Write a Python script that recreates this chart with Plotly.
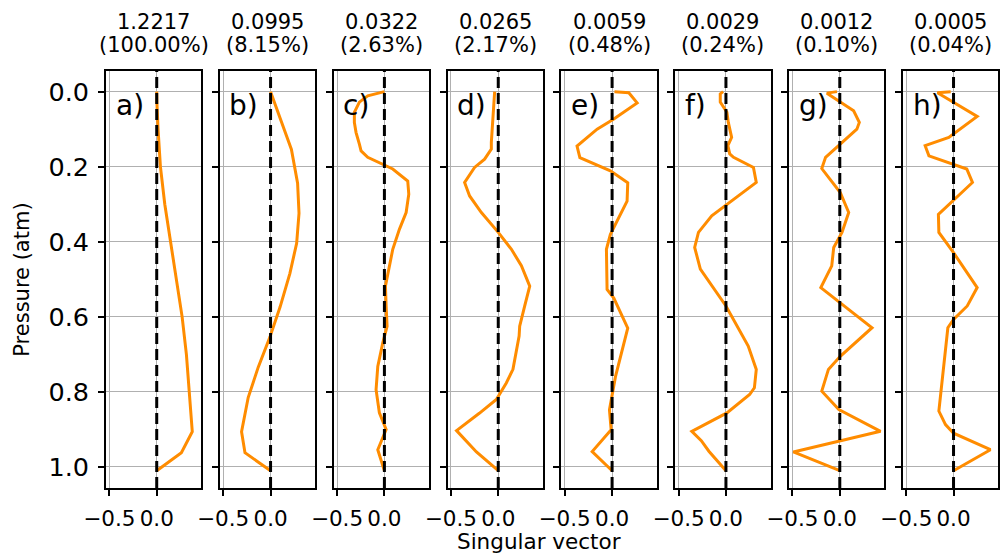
import plotly.graph_objects as go

# ---------------- data ----------------
sv_values = ["1.2217", "0.0995", "0.0322", "0.0265", "0.0059", "0.0029", "0.0012", "0.0005"]
sv_percent = ["(100.00%)", "(8.15%)", "(2.63%)", "(2.17%)", "(0.48%)", "(0.24%)", "(0.10%)", "(0.04%)"]
panel_labels = ["a)", "b)", "c)", "d)", "e)", "f)", "g)", "h)"]

p_a = [0.0, 0.004, 0.03, 0.1, 0.2, 0.3, 0.4, 0.5, 0.6, 0.7, 0.8, 0.906, 0.962, 1.01]
v_a = [0.0, 0.0, 0.002, 0.014, 0.039, 0.085, 0.144, 0.204, 0.268, 0.313, 0.345, 0.375, 0.26, 0.0]

p_b = [0.0, 0.083, 0.154, 0.244, 0.324, 0.404, 0.484, 0.574, 0.654, 0.734, 0.815, 0.906, 0.962, 1.01]
v_b = [0.0, 0.116, 0.22, 0.285, 0.30, 0.275, 0.204, 0.10, -0.007, -0.13, -0.236, -0.306, -0.27, 0.0]

p_c = [0.0, 0.011, 0.028, 0.055, 0.082, 0.109, 0.14, 0.158, 0.175, 0.193, 0.206, 0.238, 0.273,
       0.322, 0.367, 0.42, 0.482, 0.518, 0.571, 0.625, 0.67, 0.732, 0.794, 0.856, 0.90, 0.954, 1.01]
v_c = [0.0, -0.176, -0.264, -0.317, -0.317, -0.299, -0.264, -0.246, -0.176, -0.018, 0.088, 0.246, 0.257,
       0.229, 0.158, 0.088, 0.035, 0.011, 0.018, 0.028, -0.018, -0.07, -0.088, -0.053, 0.018, -0.07, 0.0]

p_d = [0.0, 0.055, 0.135, 0.153, 0.18, 0.202, 0.242, 0.278, 0.322, 0.375, 0.42, 0.464, 0.518,
       0.571, 0.625, 0.651, 0.74, 0.776, 0.82, 0.857, 0.903, 0.96, 1.01]
v_d = [-0.038, -0.054, -0.073, -0.073, -0.144, -0.25, -0.355, -0.302, -0.178, 0.0, 0.139, 0.244, 0.332,
       0.279, 0.226, 0.22, 0.155, 0.085, -0.02, -0.2, -0.44, -0.23, 0.0]

p_e = [0.0, 0.003, 0.03, 0.073, 0.1, 0.145, 0.176, 0.211, 0.243, 0.292, 0.38, 0.42, 0.527, 0.55,
       0.63, 0.76, 0.848, 0.901, 0.959, 1.01]
v_e = [0.025, 0.176, 0.264, 0.018, -0.158, -0.37, -0.34, -0.018, 0.165, 0.158, -0.018, -0.06, -0.053, 0.018,
       0.165, 0.035, -0.028, -0.01, -0.21, 0.0]

p_f = [0.0, 0.006, 0.028, 0.055, 0.082, 0.122, 0.144, 0.166, 0.175, 0.202, 0.242, 0.304, 0.331, 0.375,
       0.415, 0.473, 0.571, 0.678, 0.74, 0.789, 0.807, 0.856, 0.905, 0.93, 0.958, 1.01]
v_f = [-0.03, -0.06, -0.06, 0.01, 0.025, 0.06, 0.02, 0.04, 0.08, 0.29, 0.32, 0.0, -0.15, -0.29,
       -0.33, -0.27, 0.0, 0.235, 0.32, 0.30, 0.25, 0.01, -0.36, -0.26, -0.18, 0.0]

p_g = [0.0, 0.004, 0.051, 0.082, 0.1, 0.14, 0.175, 0.205, 0.269, 0.322, 0.375, 0.415, 0.464, 0.522,
       0.629, 0.705, 0.74, 0.798, 0.847, 0.905, 0.96, 1.01]
v_g = [-0.03, -0.136, 0.146, 0.206, 0.18, 0.005, -0.15, -0.19, 0.005, 0.094, 0.023, -0.064, -0.085, -0.2,
       0.34, 0.005, -0.12, -0.19, -0.01, 0.43, -0.49, 0.0]

p_h = [0.0, 0.003, 0.066, 0.122, 0.144, 0.171, 0.206, 0.242, 0.327, 0.375, 0.429, 0.522, 0.571, 0.607,
       0.629, 0.851, 0.887, 0.91, 0.954, 1.01]
v_h = [-0.03, -0.17, 0.25, -0.05, -0.30, -0.26, 0.14, 0.20, -0.16, -0.155, 0.0, 0.25, 0.145, 0.0,
       -0.06, -0.155, -0.085, 0.0, 0.39, 0.0]

pressures = [p_a, p_b, p_c, p_d, p_e, p_f, p_g, p_h]
vectors = [v_a, v_b, v_c, v_d, v_e, v_f, v_g, v_h]

x_ticks = [-0.5, 0.0]
y_ticks = [0.0, 0.2, 0.4, 0.6, 0.8, 1.0]

# ---------------- layout geometry ----------------
W, H = 1000, 554
ML, MR, MT, MB = 106, 0, 71, 66
PW = W - ML - MR
PH = H - MT - MB
pitch = 114.1
pwidth = 95.5

FONT = "DejaVu Sans"
ORANGE = "#ff8c00"
GRID = "#b0b0b0"

fig = go.Figure()
layout = dict(
    width=W, height=H,
    margin=dict(l=ML, r=MR, t=MT, b=MB, pad=0),
    paper_bgcolor="white", plot_bgcolor="white",
    font=dict(family=FONT, color="black"),
    showlegend=False,
)
annotations = []
shapes = []

for i in range(8):
    n = "" if i == 0 else str(i + 1)
    x0 = i * pitch / PW
    x1 = min(1.0, (i * pitch + pwidth) / PW)
    fig.add_trace(go.Scatter(
        x=vectors[i], y=pressures[i], mode="lines",
        line=dict(color=ORANGE, width=3),
        xaxis="x" + n, yaxis="y" + n, hoverinfo="skip"))
    layout["xaxis" + n] = dict(
        domain=[x0, x1], anchor="y" + n, range=[-0.535, 0.47],
        tickvals=x_ticks, tickformat=".1f",
        showline=True, mirror=True, linecolor="black", linewidth=1.8,
        ticks="outside", ticklen=6, tickwidth=1.8, tickcolor="black",
        ticklabelstandoff=4,
        showgrid=True, gridcolor=GRID, gridwidth=1.4, zeroline=False,
        tickfont=dict(size=21.5, family=FONT, color="black"),
    )
    layout["yaxis" + n] = dict(
        domain=[0, 1], anchor="x" + n, range=[1.056, -0.055],
        tickvals=y_ticks, tickformat=".1f", showticklabels=(i == 0),
        showline=True, mirror=True, linecolor="black", linewidth=1.8,
        ticks="outside", ticklen=6, tickwidth=1.8, tickcolor="black",
        ticklabelstandoff=4,
        showgrid=True, gridcolor=GRID, gridwidth=1.4, zeroline=False,
        tickfont=dict(size=25.5, family=FONT, color="black"),
    )
    shapes.append(dict(
        type="line", xref="x" + n, yref="y" + n + " domain",
        x0=0, x1=0, y0=0, y1=1, layer="above",
        line=dict(color="black", width=3, dash="11px,5px")))
    annotations.append(dict(
        xref="x" + n + " domain", yref="paper", x=0.5, y=1 + (MT - 22) / PH,
        text=sv_values[i], showarrow=False, xanchor="center", yanchor="middle",
        font=dict(size=21, family=FONT, color="black")))
    annotations.append(dict(
        xref="x" + n + " domain", yref="paper", x=0.5, y=1 + (MT - 45) / PH,
        text=sv_percent[i], showarrow=False, xanchor="center", yanchor="middle",
        font=dict(size=21, family=FONT, color="black")))
    annotations.append(dict(
        xref="x" + n + " domain", yref="y" + n + " domain", x=0.08, y=1 - (105 - MT) / PH,
        text=panel_labels[i], showarrow=False, xanchor="left", yanchor="middle",
        font=dict(size=28, family=FONT, color="black")))

annotations.append(dict(
    xref="paper", yref="paper", x=(21 - ML) / PW, y=0.5, text="Pressure (atm)",
    textangle=-90, showarrow=False, xanchor="center", yanchor="middle",
    font=dict(size=21, family=FONT, color="black")))
annotations.append(dict(
    xref="paper", yref="paper", x=(540 - ML) / PW, y=-(541 - (H - MB)) / PH,
    text="Singular vector", showarrow=False, xanchor="center", yanchor="middle",
    font=dict(size=21.5, family=FONT, color="black")))

layout["annotations"] = annotations
layout["shapes"] = shapes
fig.update_layout(**layout)
fig.write_html("out.html")
